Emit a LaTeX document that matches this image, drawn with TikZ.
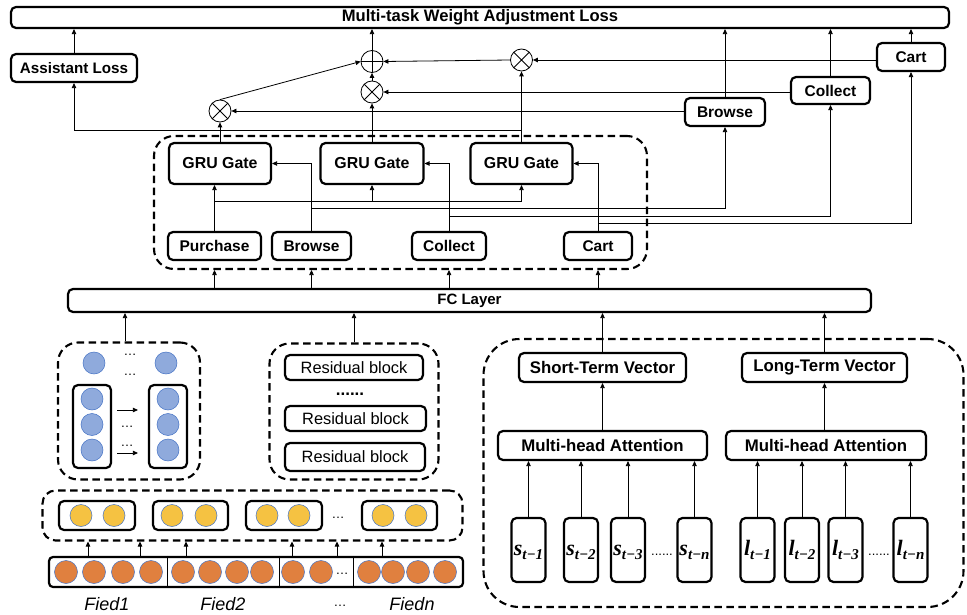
\documentclass[tikz,border=0pt]{standalone}
\usepackage{fontspec}
\setmainfont{Liberation Sans}
\newfontfamily\serifmath{Liberation Serif}
\usetikzlibrary{arrows.meta,calc}
\definecolor{bluefill}{HTML}{8FAADC}
\definecolor{blueline}{HTML}{4472C4}
\definecolor{yel}{HTML}{F5C242}
\definecolor{ora}{HTML}{E0803F}
\tikzset{
  lbl/.style={font=\fontsize{15.5}{18}\selectfont\bfseries},
  box/.style={draw, line width=2.2pt, rounded corners=5pt, inner sep=0pt, lbl},
  bigl/.style={font=\fontsize{16.8}{19}\selectfont\bfseries},
  dbox/.style={draw, line width=2.1pt, dash pattern=on 7.5pt off 4.5pt, rounded corners=20pt, inner sep=0pt},
  arr/.style={-{Triangle[length=5pt,width=4.5pt]}, line width=0.8pt},
  opn/.style={circle, draw, line width=0.8pt, minimum size=22pt, inner sep=0pt},
  timesn/.style={opn, path picture={\draw[line width=0.8pt] (path picture bounding box.north west) -- (path picture bounding box.south east) (path picture bounding box.north east) -- (path picture bounding box.south west);}},
  plusn/.style={opn, path picture={\draw[line width=0.8pt] (path picture bounding box.north) -- (path picture bounding box.south) (path picture bounding box.east) -- (path picture bounding box.west);}},
  ball/.style={circle, draw=blueline, line width=0.5pt, inner sep=0pt, minimum size=22pt},
  bc/.style={ball, fill=bluefill},
  yc/.style={ball, fill=yel},
  oc/.style={ball, fill=ora, minimum size=23pt},
  dotsl/.style={font=\fontsize{13}{13}\selectfont, inner sep=0pt, anchor=base},
  seqbox/.style={draw, line width=2.2pt, rounded corners=5pt, inner sep=0pt, minimum width=34pt, minimum height=64pt},
  fied/.style={font=\fontsize{18}{20}\selectfont\itshape, inner sep=0pt},
}
\newcommand{\seqlab}[2]{\vphantom{\fontsize{22}{24}\selectfont\serifmath l}{\fontsize{22}{24}\selectfont\serifmath\bfseries\itshape #1}\raisebox{-4pt}{\fontsize{15}{16}\selectfont\serifmath\bfseries\itshape t\kern0.5pt\upshape−\itshape #2}}
\begin{document}
\begin{tikzpicture}[x=1pt,y=-1pt]
\useasboundingbox (0,0) rectangle (967,615);

% ---------- top part ----------
\node[box, minimum width=938pt, minimum height=21pt, font=\fontsize{16.6}{18}\selectfont\bfseries] (top) at (480,17.5) {Multi-task Weight Adjustment Loss};
\node[box, minimum width=126pt, minimum height=28pt, font=\fontsize{15.2}{18}\selectfont\bfseries] (assist) at (74,68) {Assistant Loss};
\node[plusn] (plus) at (372,61.5) {};
\node[timesn] (x2) at (372,92) {};
\node[timesn] (x1) at (220,111) {};
\node[timesn] (x3) at (521.5,60) {};
\node[box, minimum width=68pt, minimum height=28pt] (cartT) at (911,57) {Cart};
\node[box, minimum width=79pt, minimum height=27pt] (collectT) at (830.5,90.5) {Collect};
\node[box, minimum width=80pt, minimum height=28pt] (browseT) at (725,112) {Browse};

% ---------- gate block ----------
\node[dbox, minimum width=493pt, minimum height=133pt] (gbox) at (400.5,202.5) {};
\node[box, minimum width=102pt, minimum height=41pt, font=\fontsize{15.9}{18}\selectfont\bfseries] (g1) at (220,163.5) {GRU Gate};
\node[box, minimum width=103pt, minimum height=41pt, font=\fontsize{15.9}{18}\selectfont\bfseries] (g2) at (372,163.5) {GRU Gate};
\node[box, minimum width=102pt, minimum height=41pt, font=\fontsize{15.9}{18}\selectfont\bfseries] (g3) at (521.5,163.5) {GRU Gate};
\node[box, minimum width=93pt, minimum height=28pt] (purchase) at (214.5,246) {Purchase};
\node[box, minimum width=79pt, minimum height=28pt] (browse) at (311.5,246) {Browse};
\node[box, minimum width=74pt, minimum height=28pt] (collect) at (449,246) {Collect};
\node[box, minimum width=68pt, minimum height=28pt] (cart) at (598,246) {Cart};

% ---------- FC ----------
\node[box, minimum width=803pt, minimum height=23pt, font=\fontsize{15}{18}\selectfont\bfseries] (fc) at (469.5,300.5) {FC Layer};

% ---------- MLP block ----------
\node[dbox, minimum width=142pt, minimum height=137pt] (mlp) at (129,411) {};
\node[bc] (m1) at (94,363) {};
\node[bc] (m2) at (166,363) {};
\node[dotsl] (md1) at (130,355) {…};
\node[dotsl] (md2) at (130,375) {…};
\node[box, minimum width=38pt, minimum height=83pt] (lc) at (92,426.5) {};
\node[box, minimum width=38pt, minimum height=83pt] (rc) at (168,426.5) {};
\foreach \y [count=\i] in {399,424.5,450} {
  \node[bc] (la\i) at (92,\y) {};
  \node[bc] (ra\i) at (168,\y) {};
}
\node[dotsl] (md3) at (127,427) {…};
\node[dotsl] (md4) at (127,446) {…};

% ---------- residual block ----------
\node[dbox, minimum width=169pt, minimum height=136pt] (resb) at (354,411.5) {};
\node[box, minimum width=138pt, minimum height=25pt, font=\fontsize{16.4}{18}\selectfont] (r1) at (354,367.5) {Residual block};
\node[dotsl, font=\fontsize{17}{17}\selectfont\bfseries] (rd) at (350,395) {......};
\node[box, minimum width=141pt, minimum height=25pt, font=\fontsize{16.4}{18}\selectfont] (r2) at (355.5,418.5) {Residual block};
\node[box, minimum width=140pt, minimum height=28pt, font=\fontsize{16.4}{18}\selectfont] (r3) at (355,457) {Residual block};

% ---------- embedding ----------
\node[dbox, rounded corners=13pt, minimum width=420pt, minimum height=50pt] (ybox) at (252.5,515.5) {};
\node[box, minimum width=76pt, minimum height=29pt] (ya) at (97,515.5) {};
\node[box, minimum width=75pt, minimum height=29pt] (yb) at (190.5,515.5) {};
\node[box, minimum width=76pt, minimum height=29pt] (ycc) at (284,515.5) {};
\node[box, minimum width=75pt, minimum height=29pt] (yd) at (399.5,515.5) {};
\foreach \x [count=\i] in {81,114,172,206,267,299,383,416} {
  \node[yc] (yy\i) at (\x,515.5) {};
}
\node[dotsl] (yd0) at (338,518) {…};

\node[box, rounded corners=4pt, minimum width=414pt, minimum height=30pt] (obar) at (256,572) {};
\foreach \x [count=\i] in {167,279,353} {
  \coordinate (dv\i) at (\x,0);
  \draw[line width=0.6pt] (obar.north -| dv\i) -- (obar.south -| dv\i);
}
\foreach \x [count=\i] in {66,94,123,151,183,210,237,262,293,321,369,393,418,445} {
  \node[oc] (oo\i) at (\x,572) {};
}
\node[dotsl] (od0) at (342,574) {…};

\node[fied] (f1) at (107,604) {Fied1};
\node[fied] (f2) at (223,604) {Fied2};
\node[dotsl] (fd0) at (340,606) {…};
\node[fied] (fn) at (412,604) {Fiedn};

% ---------- attention block ----------
\node[dbox, rounded corners=36pt, minimum width=480pt, minimum height=268pt] (rbox) at (723.5,473) {};
\node[box, bigl, minimum width=167pt, minimum height=29pt] (short) at (602.5,367.5) {Short-Term Vector};
\node[box, bigl, minimum width=165pt, minimum height=29pt] (long) at (824.5,367.5) {Long-Term Vector};
\node[box, bigl, minimum width=209pt, minimum height=29pt] (mha1) at (602.5,445.5) {Multi-head Attention};
\node[box, bigl, minimum width=200pt, minimum height=29pt] (mha2) at (826,445.5) {Multi-head Attention};

\node[seqbox] (q1) at (528.5,550) {\seqlab{s}{1}};
\node[seqbox] (q2) at (581,550) {\seqlab{s}{2}};
\node[seqbox] (q3) at (628,550) {\seqlab{s}{3}};
\node[seqbox] (qn) at (694.5,550) {\seqlab{s}{n}};
\node[seqbox] (p1) at (757.5,550) {\seqlab{l}{1}};
\node[seqbox] (p2) at (802,550) {\seqlab{l}{2}};
\node[seqbox] (p3) at (845.5,550) {\seqlab{l}{3}};
\node[seqbox] (pn) at (910.5,550) {\seqlab{l}{n}};
\node[dotsl] (sd) at (662,555) {......};
\node[dotsl] (ld) at (879,555) {......};

% ---------- connectors: top ----------
\draw[arr] (assist.north) -- (assist.north |- top.south);
\draw[arr] (plus.north) -- (plus.north |- top.south);
\draw[arr] (x2.north) -- (plus.south);
\draw[arr] (x1.north) -- (plus.west);
\draw[arr] (x3.west) -- (plus.east);
\draw[arr] (cartT.west |- x3) -- (x3.east);
\draw[arr] (collectT.west |- x2) -- (x2.east);
\draw[arr] (browseT.west |- x1) -- (x1.east);
\draw[arr] (browseT.north) -- (browseT.north |- top.south);
\draw[arr] (collectT.north) -- (collectT.north |- top.south);
\draw[arr] (cartT.north) -- (cartT.north |- top.south);
\draw[arr] (g1.north) -- (x1.south);
\draw[arr] (g2.north) -- (x2.south);
\draw[arr] (g3.north) -- (x3.south);
\coordinate (aj) at (521.5,130.5);
\draw[arr] (aj) -| (assist.south);

% ---------- connectors: gates ----------
\coordinate (pj) at (214.5,201);
\draw[arr] (purchase.north) -- (purchase.north |- g1.south);
\draw[arr] (pj) -| (g3.south);
\draw[arr] (g2.south |- pj) -- (g2.south);
\coordinate (bj) at (311.5,208);
\coordinate (cj) at (449,216);
\coordinate (tj) at (598,223.5);
\draw[arr] (browse.north) |- (g1.east);
\draw[arr] (bj) -| (browseT.south);
\draw[arr] (collect.north) |- (g2.east);
\draw[arr] (cj) -| (collectT.south);
\draw[arr] (cart.north) |- (g3.east);
\draw[arr] (tj) -| (cartT.south);
\foreach \n in {purchase,browse,collect,cart}
  \draw[arr] (\n.south |- fc.north) -- (\n.south |- gbox.south);

% ---------- connectors: lower ----------
\coordinate (mj) at (125,0);
\draw[arr] (mlp.north -| mj) -- (fc.south -| mj);
\draw[arr] (resb.north) -- (resb.north |- fc.south);
\draw[arr] (short.north) -- (short.north |- fc.south);
\draw[arr] (long.north) -- (long.north |- fc.south);
\draw[arr] (mha1.north) -- (short.south);
\draw[arr] (long.south |- mha2.north) -- (long.south);
\foreach \n in {q1,q2,q3,qn} \draw[arr] (\n.north) -- (\n.north |- mha1.south);
\foreach \n in {p1,p2,p3,pn} \draw[arr] (\n.north) -- (\n.north |- mha2.south);
\coordinate (a1) at (0,410);
\coordinate (a2) at (0,453);
\draw[arr, shorten <=5pt, shorten >=10pt] (lc.east |- a1) -- (rc.west |- a1);
\draw[arr, shorten <=5pt, shorten >=10pt] (lc.east |- a2) -- (rc.west |- a2);
\foreach \x [count=\i] in {88,140,186,292,337,382} {
  \coordinate (oa\i) at (\x,0);
  \draw[arr] (obar.north -| oa\i) -- (ybox.south -| oa\i);
}
\end{tikzpicture}
\end{document}
